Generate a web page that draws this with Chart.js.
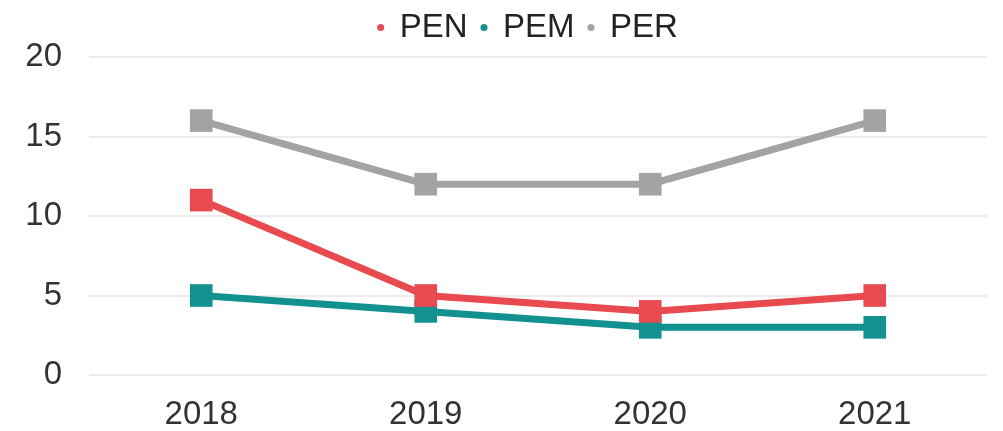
<!DOCTYPE html>
<html>
<head>
<meta charset="utf-8">
<script src="https://cdn.jsdelivr.net/npm/chart.js@4"></script>
<style>
    html, body { margin: 0; padding: 0; background: #fff; }
    #wrap { width: 1003px; height: 431px; }
</style>
</head>
<body>
<div id="wrap"><canvas id="c"></canvas></div>
<script>
const YEARS = ['2018', '2019', '2020', '2021'];
const PEN = [11, 5, 4, 5];
const PEM = [5, 4, 3, 3];
const PER = [16, 12, 12, 16];
const Y_TICKS = [0, 5, 10, 15, 20];

const textColor = '#333333';
const gridColor = '#ececec';
const FONT = 'Liberation Sans';

/* ── one series ── */
function series(label, data, color) {
    return {
        label, data,
        borderColor: color,
        backgroundColor: color,
        borderWidth: 7,
        pointStyle: 'rect',
        pointRadius: 16,
        pointHoverRadius: 16,
        pointBorderWidth: 0,
        tension: 0
    };
}

/* the legend in the source sits a bit right of centre */
const nudgeLegend = {
    id: 'nudgeLegend',
    afterLayout(chart) {
        const l = chart.legend;
        l.left += 33; l.right += 33;
        l.top -= 5; l.bottom -= 5;
    }
};

new Chart(document.getElementById('c'), {
    type: 'line',
    data: {
        labels: YEARS,
        datasets: [
            series('PEN', PEN, '#e84a50'),
            series('PEM', PEM, '#139190'),
            series('PER', PER, '#a3a3a3')
        ]
    },
    plugins: [nudgeLegend],
    options: {
        responsive: true,
        maintainAspectRatio: false,
        animation: false,
        layout: { padding: { top: 2, right: 13, left: 0, bottom: 0 } },
        plugins: {
            tooltip: { enabled: false },
            legend: {
                position: 'top',
                maxHeight: 55,
                labels: {
                    usePointStyle: true,
                    pointStyle: 'circle',
                    boxWidth: 5,
                    boxHeight: 5,
                    padding: 14,
                    color: '#222',
                    font: { family: FONT, size: 33 }
                }
            }
        },
        scales: {
            x: {
                offset: true,
                grid: { display: false, drawTicks: false },
                border: { display: false },
                ticks: { color: textColor, padding: 20, font: { family: FONT, size: 33 } },
                afterFit: a => { a.height = 56; }
            },
            y: {
                min: 0, max: 20,
                afterBuildTicks: a => { a.ticks = Y_TICKS.map(v => ({ value: v })); },
                grid: { color: gridColor, lineWidth: 2, drawTicks: false },
                border: { display: false },
                ticks: { color: textColor, padding: 27, font: { family: FONT, size: 33 } },
                afterFit: a => { a.width = 89; }
            }
        }
    }
});
</script>
</body>
</html>
